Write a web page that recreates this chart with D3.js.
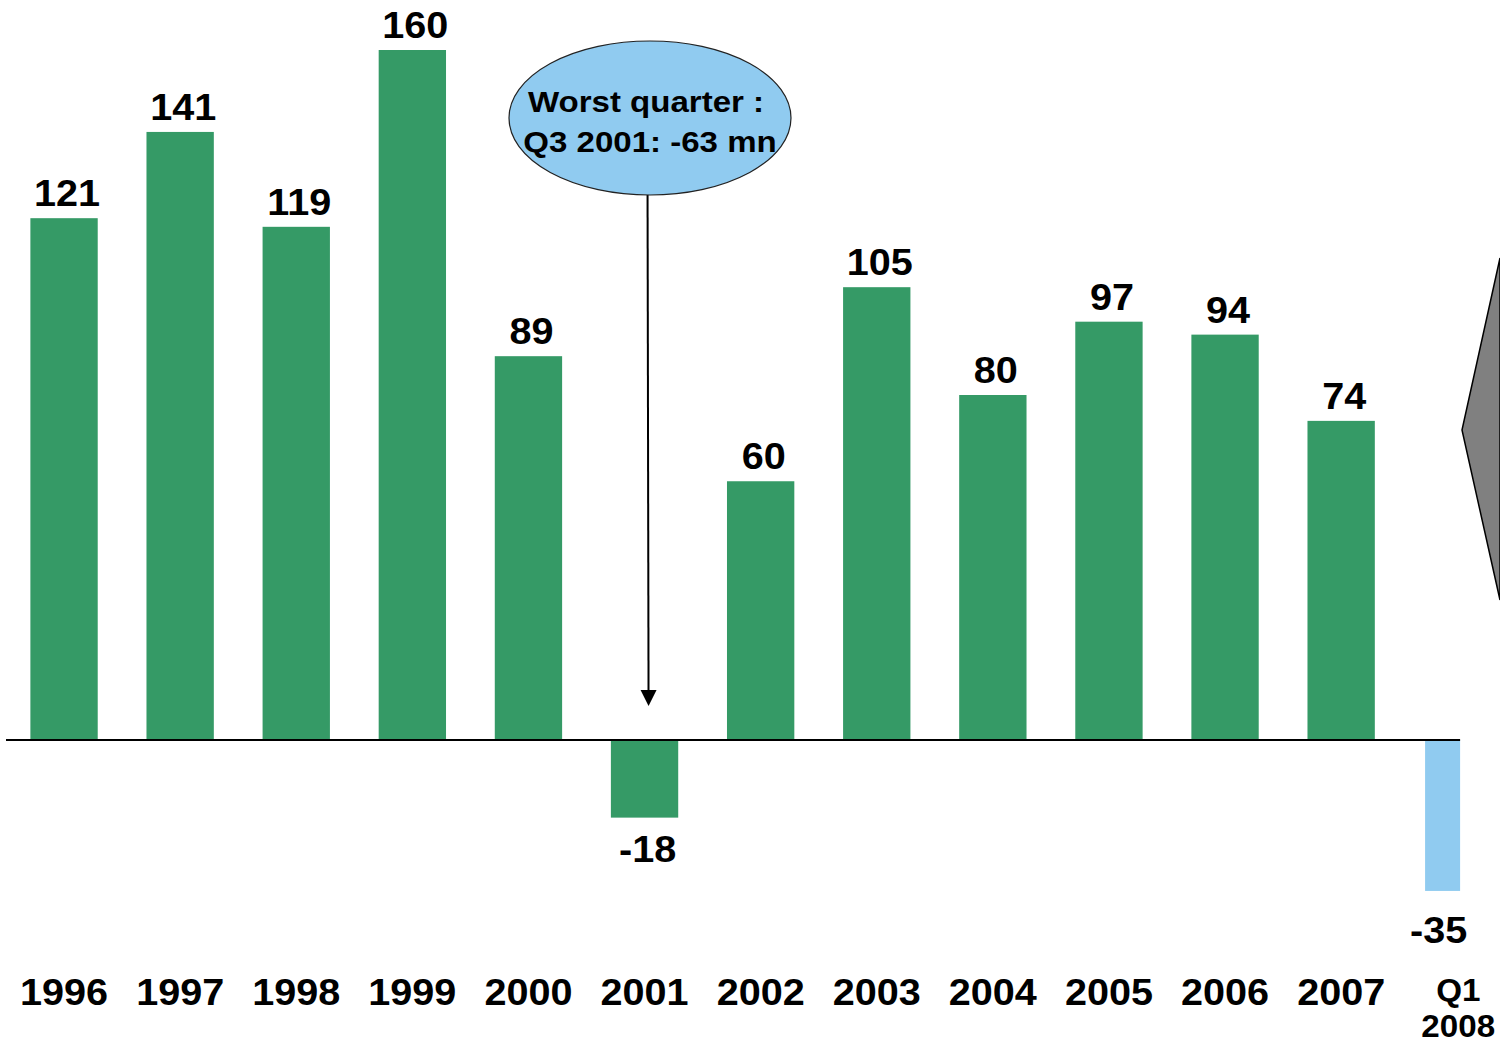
<!DOCTYPE html>
<html>
<head>
<meta charset="utf-8">
<script src="https://cdn.jsdelivr.net/npm/d3@7"></script>
<style>
  body { margin: 0; background: #fff; }
  text { font-family: "Liberation Sans", Arial, sans-serif; font-weight: bold; fill: #000; }
</style>
</head>
<body>
<div id="chart"></div>
<script>
const years = ['1996', '1997', '1998', '1999', '2000', '2001', '2002', '2003', '2004', '2005', '2006', '2007', 'Q1 2008'];
const values = [121, 141, 119, 160, 89, -18, 60, 105, 80, 97, 94, 74, -35];
const calloutLines = ['Worst quarter :', 'Q3 2001: -63 mn'];
const calloutYear = '2001';

const width = 1500, height = 1044;
const colorGreen = '#359a66', colorLight = '#90cbf0';
const stretch = 1.07; // text in the original is a little wide

const svg = d3.select('#chart')
    .append('svg')
    .attr('width', width)
    .attr('height', height);

/* scales */
const xScale = d3.scaleBand()
    .domain(years)
    .range([6, 6 + 116.1 * years.length])
    .paddingInner(0.42)
    .paddingOuter(0.21);

const yScale = d3.scaleLinear()
    .domain([0, 160])
    .range([740, 50]);

const isQ = d => d === 'Q1 2008';
const barX = d => isQ(d) ? xScale(d) + 1.5 : xScale(d);
const barW = d => isQ(d) ? xScale.bandwidth() * 0.52 : xScale.bandwidth();
const mid = d => barX(d) + barW(d) / 2;

function place(sel, fx, fy, sx) {
    sel.attr('transform', (d, i) => `translate(${fx(d, i)},${fy(d, i)}) scale(${sx || stretch},1)`);
}

/* bars */
svg.append('g')
    .selectAll('rect')
    .data(years)
    .join('rect')
    .attr('x', barX)
    .attr('width', barW)
    .attr('y', (d, i) => yScale(Math.max(0, values[i])))
    .attr('height', (d, i) => Math.abs(yScale(values[i]) - yScale(0)))
    .attr('fill', d => isQ(d) ? colorLight : colorGreen);

/* zero line */
svg.append('line')
    .attr('x1', 6)
    .attr('x2', barX('Q1 2008') + barW('Q1 2008'))
    .attr('y1', yScale(0))
    .attr('y2', yScale(0))
    .attr('stroke', '#000')
    .attr('stroke-width', 2);

/* value labels */
svg.append('g')
    .selectAll('text')
    .data(years)
    .join('text')
    .call(place,
        d => mid(d) + (isQ(d) ? -4 : 3),
        (d, i) => values[i] >= 0 ? yScale(values[i]) - 12 : yScale(values[i]) + (isQ(d) ? 52 : 44))
    .attr('text-anchor', 'middle')
    .style('font-size', '37px')
    .text((d, i) => values[i]);

/* year labels */
const xl = svg.append('g');
xl.selectAll('text')
    .data(years.filter(d => !isQ(d)))
    .join('text')
    .call(place, d => mid(d), () => 1005)
    .attr('text-anchor', 'middle')
    .style('font-size', '37px')
    .text(d => d);

const qx = xScale('Q1 2008') + xScale.bandwidth() / 2 + 1;
xl.selectAll('text.q')
    .data('Q1 2008'.split(' '))
    .join('text')
    .attr('class', 'q')
    .call(place, () => qx, (d, i) => 1001 + i * 36)
    .attr('text-anchor', 'middle')
    .style('font-size', '31px')
    .text(d => d);

/* callout arrow */
const ax = mid(calloutYear) + 4;
svg.append('line')
    .attr('x1', ax - 1)
    .attr('x2', ax)
    .attr('y1', 195)
    .attr('y2', 694)
    .attr('stroke', '#000')
    .attr('stroke-width', 2);
svg.append('path')
    .attr('d', `M${ax - 8},690 L${ax + 8},690 L${ax},706 Z`)
    .attr('fill', '#000');

/* callout ellipse */
svg.append('ellipse')
    .attr('cx', 650)
    .attr('cy', 118)
    .attr('rx', 141)
    .attr('ry', 77)
    .attr('fill', colorLight)
    .attr('stroke', '#222')
    .attr('stroke-width', 1.2);

svg.append('g')
    .selectAll('text')
    .data(calloutLines)
    .join('text')
    .call(place, (d, i) => i === 0 ? 646 : 650, (d, i) => 112 + i * 40, 1.14)
    .attr('text-anchor', 'middle')
    .style('font-size', '29px')
    .text(d => d);

/* grey pointer at right edge */
svg.append('path')
    .attr('d', 'M1500,258 L1462,430 L1500,600 Z')
    .attr('fill', '#808080')
    .attr('stroke', '#000')
    .attr('stroke-width', 1.5);
</script>
</body>
</html>
